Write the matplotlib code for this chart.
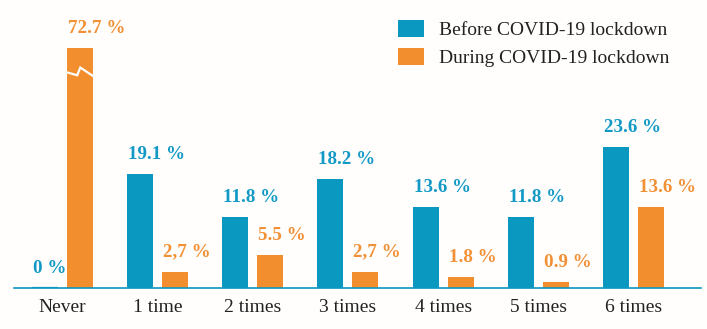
import numpy as np
import matplotlib
matplotlib.use('Agg')
import matplotlib.pyplot as plt
from matplotlib.patches import Patch

categories = ['Never', '1 time', '2 times', '3 times', '4 times', '5 times', '6 times']
before = [0, 19.1, 11.8, 18.2, 13.6, 11.8, 23.6]
during = [72.7, 2.7, 5.5, 2.7, 1.8, 0.9, 13.6]
# a couple of the "during" labels were written with a decimal comma
during_comma = [False, True, False, True, False, False, False]
series_names = ['Before COVID-19 lockdown', 'During COVID-19 lockdown']

BLUE = '#0A97C0'
ORANGE = '#F28E2E'
BLUE_TXT = '#1399C6'
ORANGE_TXT = '#F29035'

# tallest bar is cut off and drawn with a break mark
y_cap = 40.3

plt.rcParams['font.family'] = ['Liberation Serif', 'DejaVu Serif']

fig = plt.figure(figsize=(7.07, 3.29), dpi=100)
fig.patch.set_facecolor('#fffefd')
ax = fig.add_axes([14 / 707, 41.3 / 329, 687 / 707, 1 - 41.3 / 329])
ax.set_facecolor('none')

x = np.arange(len(categories))
w = 0.273
off = 0.184

before_h = np.minimum(before, y_cap)
during_h = np.minimum(during, y_cap)

b1 = ax.bar(x - off, before_h, w, color=BLUE, zorder=2)
b2 = ax.bar(x + off, during_h, w, color=ORANGE, zorder=2)

# zero-height bars still get a thin strip on the baseline
for bar, v in zip(b1, before):
    if v == 0:
        bar.set_edgecolor(BLUE)
        bar.set_linewidth(1.6)

def fmt(v, comma=False):
    s = f'{v:g} %'
    return s.replace('.', ',') if comma else s

for bar, v in zip(b1, before):
    ax.annotate(fmt(v), (bar.get_x(), bar.get_height()),
                xytext=(0.7, 10.8), textcoords='offset points',
                ha='left', va='baseline', fontsize=13.7,
                fontweight='bold', color=BLUE_TXT)

for bar, v, c in zip(b2, during, during_comma):
    ax.annotate(fmt(v, c), (bar.get_x(), bar.get_height()),
                xytext=(0.7, 10.8), textcoords='offset points',
                ha='left', va='baseline', fontsize=13.7,
                fontweight='bold', color=ORANGE_TXT)

# break mark across any capped bar
for bar, v in zip(b2, during):
    if v > y_cap:
        x0 = bar.get_x()
        bw = bar.get_width()
        zx = x0 + bw * np.array([0.0, 0.40, 0.52, 1.0])
        zy = 36.2 + np.array([0.0, -0.5, 0.8, -0.6])
        ax.plot(zx, zy, color='white', lw=1.6, zorder=3,
                solid_joinstyle='miter')

ax.set_xlim(-0.507, 6.709)
ax.set_ylim(0, 48.35)

ax.set_xticks(x)
ax.set_xticklabels(categories, fontsize=14, color='#222222')
ax.tick_params(axis='x', length=0, pad=8)
ax.set_yticks([])
for s in ['top', 'left', 'right']:
    ax.spines[s].set_visible(False)
ax.spines['bottom'].set_color(BLUE)
ax.spines['bottom'].set_linewidth(1.2)
ax.spines['bottom'].set_zorder(4)

handles = [Patch(facecolor=BLUE), Patch(facecolor=ORANGE)]
leg = fig.legend(handles, series_names, loc='upper left',
                 bbox_to_anchor=(398 / 707, 1 - 20 / 329),
                 bbox_transform=fig.transFigure, frameon=False,
                 fontsize=14, handlelength=1.34, handleheight=0.98,
                 handletextpad=0.75, labelspacing=0.44,
                 borderpad=0, borderaxespad=0)
for t in leg.get_texts():
    t.set_color('#222222')

fig.savefig('out.png', dpi=100, facecolor=fig.get_facecolor())
